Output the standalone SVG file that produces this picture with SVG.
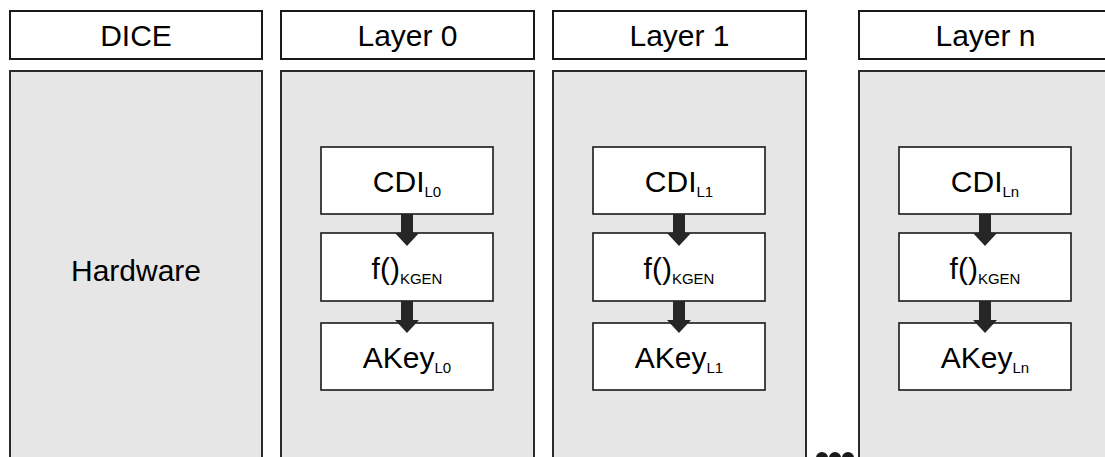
<svg xmlns="http://www.w3.org/2000/svg" width="1105" height="457" viewBox="0 0 1105 457">
  <style>
    .hdr { fill: #ffffff; stroke: #1a1a1a; stroke-width: 2; }
    .panel { fill: #e6e6e6; stroke: #2a2a2a; stroke-width: 2; }
    .box { fill: #ffffff; stroke: #1a1a1a; stroke-width: 1.6; }
    .t { font-family: "Liberation Sans", Arial, sans-serif; font-size: 30px; fill: #000000; text-anchor: middle; }
    .sub { font-size: 15px; }
    .arrow { fill: #262626; }
  </style>
  <defs>
    <!-- thick down arrow between stacked boxes; origin at centre of the upper box's bottom edge -->
    <path id="down" class="arrow" d="M-6,0 H6 V19 H12 L0,32 L-12,19 H-6 Z"/>
  </defs>
  <rect width="1105" height="457" fill="#ffffff"/>

  <!-- DICE column -->
  <g id="dice">
    <rect class="hdr" x="10" y="11" width="252" height="48"/>
    <text class="t" x="136" y="46">DICE</text>
    <rect class="panel" x="10" y="71" width="252" height="400"/>
    <text class="t" x="136" y="281">Hardware</text>
  </g>

  <!-- Layer 0 column -->
  <g id="layer0">
    <rect class="hdr" x="281" y="11" width="253" height="48"/>
    <text class="t" x="407.5" y="46">Layer 0</text>
    <rect class="panel" x="281" y="71" width="253" height="400"/>
  </g>
  <g id="cdi-l0">
    <rect class="box" x="321" y="147" width="172" height="67"/>
    <text class="t" x="407" y="192">CDI<tspan class="sub" dy="5">L0</tspan></text>
  </g>
  <g id="kgen-l0">
    <rect class="box" x="321" y="233" width="172" height="68"/>
    <text class="t" x="407" y="279">f()<tspan class="sub" dy="5">KGEN</tspan></text>
  </g>
  <g id="akey-l0">
    <rect class="box" x="321" y="323" width="172" height="67"/>
    <text class="t" x="407" y="368">AKey<tspan class="sub" dy="5">L0</tspan></text>
  </g>

  <!-- Layer 1 column -->
  <g id="layer1">
    <rect class="hdr" x="553" y="11" width="253" height="48"/>
    <text class="t" x="679.5" y="46">Layer 1</text>
    <rect class="panel" x="553" y="71" width="253" height="400"/>
  </g>
  <g id="cdi-l1">
    <rect class="box" x="593" y="147" width="172" height="67"/>
    <text class="t" x="679" y="192">CDI<tspan class="sub" dy="5">L1</tspan></text>
  </g>
  <g id="kgen-l1">
    <rect class="box" x="593" y="233" width="172" height="68"/>
    <text class="t" x="679" y="279">f()<tspan class="sub" dy="5">KGEN</tspan></text>
  </g>
  <g id="akey-l1">
    <rect class="box" x="593" y="323" width="172" height="67"/>
    <text class="t" x="679" y="368">AKey<tspan class="sub" dy="5">L1</tspan></text>
  </g>

  <!-- Layer n column (runs past the right edge) -->
  <g id="layern">
    <rect class="hdr" x="859" y="11" width="253" height="48"/>
    <text class="t" x="985.5" y="46">Layer n</text>
    <rect class="panel" x="859" y="71" width="253" height="400"/>
  </g>
  <g id="cdi-ln">
    <rect class="box" x="899" y="147" width="172" height="67"/>
    <text class="t" x="985" y="192">CDI<tspan class="sub" dy="5">Ln</tspan></text>
  </g>
  <g id="kgen-ln">
    <rect class="box" x="899" y="233" width="172" height="68"/>
    <text class="t" x="985" y="279">f()<tspan class="sub" dy="5">KGEN</tspan></text>
  </g>
  <g id="akey-ln">
    <rect class="box" x="899" y="323" width="172" height="67"/>
    <text class="t" x="985" y="368">AKey<tspan class="sub" dy="5">Ln</tspan></text>
  </g>

  <!-- ellipsis between Layer 1 and Layer n -->
  <g id="ellipsis" fill="#1a1a1a">
    <circle cx="822" cy="458" r="6"/>
    <circle cx="835" cy="458" r="6"/>
    <circle cx="848" cy="458" r="6"/>
  </g>

  <!-- connectors -->
  <g id="connectors">
    <use href="#down" x="407" y="214"/>
    <use href="#down" x="407" y="301"/>
    <use href="#down" x="679" y="214"/>
    <use href="#down" x="679" y="301"/>
    <use href="#down" x="985" y="214"/>
    <use href="#down" x="985" y="301"/>
  </g>
</svg>
